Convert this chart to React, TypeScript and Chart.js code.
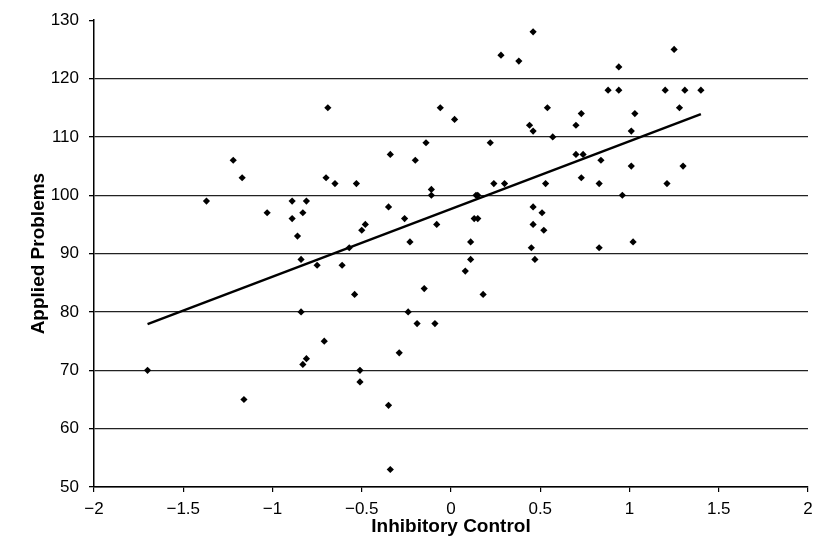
import React, { useEffect, useRef } from "react";
import { Chart, registerables } from "chart.js";

Chart.register(...registerables);

// Inhibitory Control (x) and Applied Problems (y) for each child
const inhibitoryControl = [
  -0.69, -1.22, -1.17, -0.70, -1.37, -0.89, -0.81, -1.03, -0.83, -0.89, -0.86, -0.84,
  0.46, 0.28, 0.38, -0.06, 0.02, 0.54, 0.44, 0.46, 0.57, -0.14, 0.22, -0.34, -0.20,
  -0.65, -0.53, -0.11, -0.11, 0.24, 0.30, 0.53, 0.14, 0.15, -0.35, -0.26, 0.13, 0.15,
  -0.08, -0.48, -0.50, 0.46, 0.51, 0.46, 0.52, -0.23, 0.11, 0.45, -0.57, 0.11, 0.47,
  1.25, 0.94, 0.88, 0.94, 1.20, 1.31, 1.40, 1.28, 0.73, 1.03, 0.70, 1.01, 0.70, 0.74,
  0.84, 1.01, 1.30, 0.73, 0.83, 1.21, 0.96, 0.83, 1.02,
  -0.75, -0.84, -0.71, -0.81, -0.83, -1.70, -1.16,
  -0.61, 0.08, -0.54, -0.15, 0.18, -0.24, -0.19, -0.09, -0.29, -0.51, -0.51, -0.35, -0.34,
];

const appliedProblems = [
  115, 106, 103, 103, 99, 99, 99, 97, 97, 96, 93, 89,
  128, 124, 123, 115, 113, 115, 112, 111, 110, 109, 109, 107, 106,
  102, 102, 101, 100, 102, 102, 102, 100, 100, 98, 96, 96, 96,
  95, 95, 94, 98, 97, 95, 94, 92, 92, 91, 91, 89, 89,
  125, 122, 118, 118, 118, 118, 118, 115, 114, 114, 112, 111, 107, 107,
  106, 105, 105, 103, 102, 102, 100, 91, 92,
  88, 80, 75, 72, 71, 70, 65,
  88, 87, 83, 84, 83, 80, 78, 78, 73, 70, 68, 64, 53,
];

// Regression line end points
const fitLineX = [-1.7, 1.4];
const fitLineY = [77.9, 113.9];

// Axis ranges and tick steps
const xRange = [-2, 2];
const xStep = 0.5;
const yRange = [50, 130];
const yStep = 10;

const FAMILY = '"Liberation Sans", Arial, Helvetica, sans-serif';

function fmtX(v: number): string {
  if (v < 0) return "\u2212" + String(Math.abs(v));
  return String(v);
}

export default function App() {
  const ref = useRef<HTMLCanvasElement>(null);

  useEffect(() => {
    const points = inhibitoryControl.map((x, i) => ({ x, y: appliedProblems[i] }));
    const line = fitLineX.map((x, i) => ({ x, y: fitLineY[i] }));
    const chart = new Chart(ref.current as HTMLCanvasElement, {
      type: "scatter",
      data: {
        datasets: [
          {
            data: points,
            pointStyle: "rectRot",
            pointRadius: 3.6,
            pointHoverRadius: 3.6,
            backgroundColor: "#000",
            borderColor: "#000",
            borderWidth: 0,
          },
          {
            data: line,
            showLine: true,
            borderColor: "#000",
            borderWidth: 2.5,
            pointRadius: 0,
            pointHoverRadius: 0,
            fill: false,
          },
        ],
      },
      options: {
        animation: false,
        responsive: false,
        events: [],
        layout: { padding: { left: 0, right: 15, top: 18, bottom: 0 } },
        plugins: { legend: { display: false }, tooltip: { enabled: false } },
        scales: {
          x: {
            type: "linear",
            min: xRange[0],
            max: xRange[1],
            ticks: {
              stepSize: xStep,
              color: "#000",
              font: { family: FAMILY, size: 17 },
              padding: 7,
              callback: (v: any) => fmtX(Number(v)),
            },
            grid: { drawOnChartArea: false, tickLength: 5, color: "#000", lineWidth: 1.2 },
            border: { color: "#000", width: 1.5 },
            title: {
              display: true,
              text: "Inhibitory Control",
              color: "#000",
              font: { family: FAMILY, size: 19, weight: "bold" },
              padding: { top: 0, bottom: 10 },
            },
            afterFit: (s: any) => {
              s.height = 61;
            },
          },
          y: {
            type: "linear",
            min: yRange[0],
            max: yRange[1],
            ticks: {
              stepSize: yStep,
              color: "#000",
              font: { family: FAMILY, size: 17 },
              padding: 10,
            },
            grid: {
              color: (ctx: any) =>
                ctx.tick && ctx.tick.value === yRange[1] ? "rgba(0,0,0,0)" : "#222",
              tickColor: "#000",
              lineWidth: 1.3,
              tickLength: 5,
            },
            border: { color: "#000", width: 1.5 },
            title: {
              display: true,
              text: "Applied Problems",
              color: "#000",
              font: { family: FAMILY, size: 19, weight: "bold" },
              padding: { top: 27, bottom: 0 },
            },
            afterFit: (s: any) => {
              s.width = 94;
            },
          },
        },
      },
    } as any);
    return () => chart.destroy();
  }, []);

  return (
    <div style={{ position: "fixed", left: 0, top: 0, width: 823, height: 548, background: "#fff" }}>
      <canvas ref={ref} width={823} height={548} style={{ display: "block" }} />
    </div>
  );
}
